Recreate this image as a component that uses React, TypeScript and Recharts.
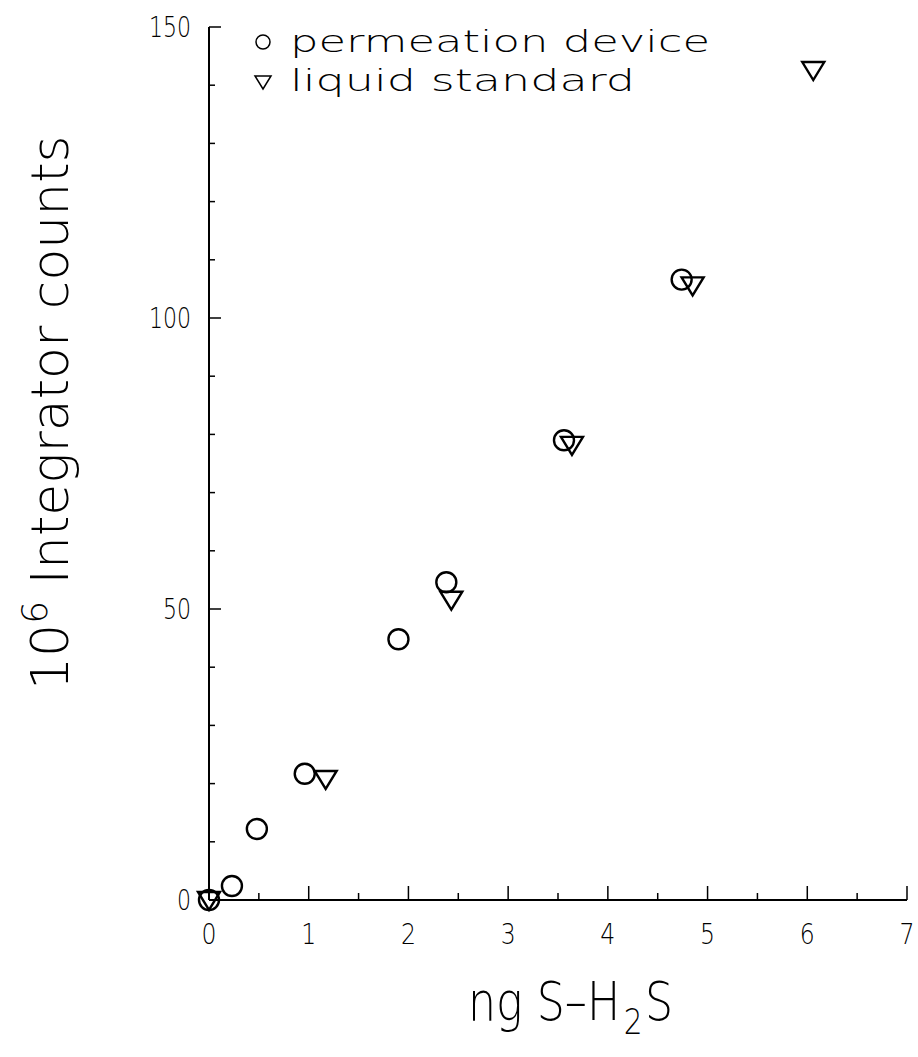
import React from 'react';
import { ScatterChart, Scatter, XAxis, YAxis, Customized } from 'recharts';

// ---- data ----
const permeationX = [0, 0.23, 0.48, 0.96, 1.9, 2.38, 3.56, 4.74];
const permeationY = [0, 2.4, 12.2, 21.7, 44.8, 54.6, 79.0, 106.6];
const liquidX = [0, 1.17, 2.43, 3.64, 4.85, 6.06];
const liquidY = [0, 20.8, 51.6, 78.2, 105.6, 142.6];

const xTicks = [0, 0.5, 1, 1.5, 2, 2.5, 3, 3.5, 4, 4.5, 5, 5.5, 6, 6.5, 7];
const xTickLabels = ['0', '1', '2', '3', '4', '5', '6', '7'];
const yTicks = [0, 10, 20, 30, 40, 50, 60, 70, 80, 90, 100, 110, 120, 130, 140, 150];
const yTickLabels = ['0', '50', '100', '150'];

const seriesNames = ['permeation device', 'liquid standard'];

const permeationData = permeationX.map((x, i) => ({ x, y: permeationY[i] }));
const liquidData = liquidX.map((x, i) => ({ x, y: liquidY[i] }));

const FONT = "'DejaVu Sans', sans-serif";
const FW = 200;

const CircleMark = (props: any) => {
  const { cx, cy } = props;
  return <circle cx={cx} cy={cy} r={10} fill="none" stroke="#000" strokeWidth={2.4} />;
};

const TriMark = (props: any) => {
  const { cx, cy } = props;
  const pts = `${cx - 11},${cy - 8} ${cx + 11},${cy - 8} ${cx},${cy + 10}`;
  return <polygon points={pts} fill="none" stroke="#000" strokeWidth={2.4} strokeLinejoin="miter" />;
};

const XTick = (props: any) => {
  const { x, y, payload } = props;
  const v = payload.value as number;
  const major = Number.isInteger(v);
  const label = major ? xTickLabels[v] : null;
  return (
    <g>
      <line x1={x} y1={y} x2={x} y2={y - (major ? 14 : 7)} stroke="#000" strokeWidth={1.5} />
      {label !== null && (
        <text
          x={x}
          y={y + 44}
          textAnchor="middle"
          fontFamily={FONT}
          fontWeight={FW}
          fontSize={29}
          fill="#000"
          textLength={15}
          lengthAdjust="spacingAndGlyphs"
        >
          {label}
        </text>
      )}
    </g>
  );
};

const YTick = (props: any) => {
  const { x, y, payload } = props;
  const v = payload.value as number;
  const idx = [0, 50, 100, 150].indexOf(v);
  const major = idx >= 0;
  const lbl = major ? yTickLabels[idx] : '';
  return (
    <g>
      <line x1={x} y1={y} x2={x + (major ? 12 : 6)} y2={y} stroke="#000" strokeWidth={1.5} />
      {major && (
        <text
          x={x - 18}
          y={y + 10}
          textAnchor="end"
          fontFamily={FONT}
          fontWeight={FW}
          fontSize={29}
          fill="#000"
          textLength={lbl.length * 14}
          lengthAdjust="spacingAndGlyphs"
        >
          {lbl}
        </text>
      )}
    </g>
  );
};

const Extras = () => (
  <g fontFamily={FONT} fontWeight={FW} fill="#000">
    {/* legend */}
    <circle cx={263} cy={42} r={7} fill="none" stroke="#000" strokeWidth={1.5} />
    <text x={290} y={52} fontSize={31} textLength={420} lengthAdjust="spacingAndGlyphs">
      {seriesNames[0]}
    </text>
    <polygon points={`${255},${76} ${271},${76} ${263},${89}`} fill="none" stroke="#000" strokeWidth={1.5} />
    <text x={290} y={91} fontSize={31} textLength={345} lengthAdjust="spacingAndGlyphs">
      {seriesNames[1]}
    </text>
    {/* y axis label */}
    <g transform="translate(68,690) rotate(-90)">
      <text x={0} y={0} fontSize={52}>
        <tspan>10</tspan>
        <tspan dy={-21} fontSize={36}>6</tspan>
        <tspan dy={21}> Integrator counts</tspan>
      </text>
    </g>
    {/* x axis label */}
    <g transform="translate(468,1020) scale(0.82,1)">
      <text x={0} y={0} fontSize={54}>
        ng S–H
      </text>
      <text x={190} y={14} fontSize={36}>
        2
      </text>
      <text x={216} y={0} fontSize={54}>
        S
      </text>
    </g>
  </g>
);

export default function App() {
  return (
    <div style={{ position: 'absolute', left: 0, top: 0, width: 918, height: 1057 }}>
      <style>{`.recharts-surface { overflow: visible; }`}</style>
      <ScatterChart width={918} height={1057} margin={{ top: 27, right: 11, bottom: 97, left: 149 }}>
        <XAxis
          type="number"
          dataKey="x"
          domain={[0, 7]}
          ticks={xTicks}
          interval={0}
          height={60}
          tickSize={0}
          tickMargin={0}
          tickLine={false}
          axisLine={{ stroke: '#000', strokeWidth: 2 }}
          tick={<XTick />}
        />
        <YAxis
          type="number"
          dataKey="y"
          domain={[0, 150]}
          ticks={yTicks}
          interval={0}
          width={60}
          tickSize={0}
          tickMargin={0}
          tickLine={false}
          axisLine={{ stroke: '#000', strokeWidth: 2 }}
          tick={<YTick />}
        />
        <Scatter name={seriesNames[0]} data={permeationData} shape={<CircleMark />} isAnimationActive={false} />
        <Scatter name={seriesNames[1]} data={liquidData} shape={<TriMark />} isAnimationActive={false} />
        <Customized component={Extras} />
      </ScatterChart>
    </div>
  );
}
